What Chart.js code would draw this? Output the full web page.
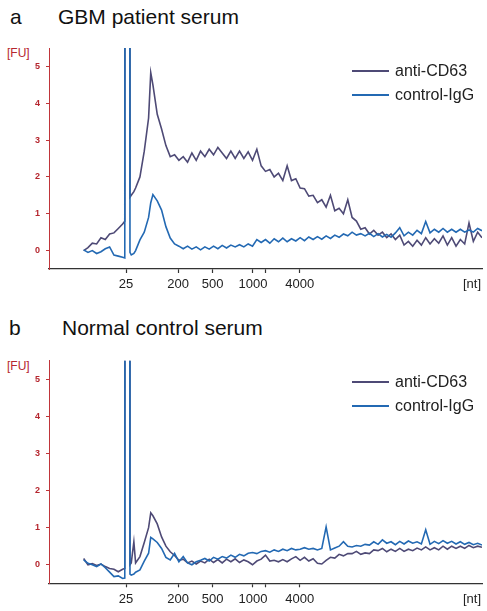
<!DOCTYPE html>
<html>
<head>
<meta charset="utf-8">
<script src="https://cdn.jsdelivr.net/npm/chart.js@4.4.1/dist/chart.umd.min.js"></script>
<style>
  body { margin: 0; background: #fff; font-family: "Liberation Sans", Arial, sans-serif; }
  #page { position: relative; width: 487px; height: 611px; overflow: hidden; }
  canvas { position: absolute; left: 0; }
  .txt { position: absolute; white-space: nowrap; }
  .title { font-size: 21px; line-height: 21px; color: #111; }
  .fu { font-size: 12px; line-height: 12px; color: #b5262e; }
  .leg { font-size: 16px; line-height: 16px; color: #222; }
  .swatch { position: absolute; width: 37px; height: 2px; }
</style>
</head>
<body>
<div id="page">
  <div class="txt title" style="left:10px;top:6px;">a</div>
  <div class="txt title" style="left:58px;top:6px;">GBM patient serum</div>
  <div class="txt fu" style="left:7px;top:47px;">[FU]</div>
  <canvas id="chartA" width="487" height="305" style="top:0;"></canvas>
  <div class="swatch" style="left:352px;top:70px;background:#4e4a76;"></div>
  <div class="txt leg" style="left:395px;top:63px;">anti-CD63</div>
  <div class="swatch" style="left:352px;top:94px;background:#2369b3;"></div>
  <div class="txt leg" style="left:395px;top:87px;">control-IgG</div>

  <div class="txt title" style="left:9px;top:317px;">b</div>
  <div class="txt title" style="left:62px;top:317px;">Normal control serum</div>
  <div class="txt fu" style="left:7px;top:360px;">[FU]</div>
  <canvas id="chartB" width="487" height="298" style="top:313px;"></canvas>
  <div class="swatch" style="left:352px;top:381px;background:#4e4a76;"></div>
  <div class="txt leg" style="left:395px;top:374px;">anti-CD63</div>
  <div class="swatch" style="left:352px;top:405px;background:#2369b3;"></div>
  <div class="txt leg" style="left:395px;top:398px;">control-IgG</div>
</div>

<script>
// migration position (arbitrary units along the run, 0..100)
const time = [8, 9, 10, 11, 12, 13, 14, 15, 16, 17,
  17.5, 17.7, 18.5, 18.7, 19, 19.6, 20, 21, 22, 23, 23.5,
  24, 25, 26, 27, 28, 29, 30, 31, 32, 33,
  34, 35, 36, 37, 38, 39, 40, 41, 42, 43,
  44, 45, 46, 47, 48, 49, 50, 51, 52, 53,
  54, 55, 56, 57, 58, 59, 60, 61, 62, 63,
  64, 65, 66, 67, 68, 69, 70, 71, 72, 73,
  74, 75, 76, 77, 78, 79, 80, 81, 82, 83,
  84, 85, 86, 87, 88, 89, 90, 91, 92, 93,
  94, 95, 96, 97, 98, 99, 100];

// panel a - GBM patient serum
const gbmAntiCD63 = [0.0, 0.08, 0.2, 0.18, 0.35, 0.3, 0.45, 0.48, 0.6, 0.72,
  0.8, 40, 40, 1.45, 1.5, 1.6, 1.7, 2.0, 2.7, 3.6, 4.83,
  4.5, 3.7, 3.3, 2.85, 2.55, 2.6, 2.45, 2.55, 2.4, 2.65,
  2.45, 2.7, 2.55, 2.75, 2.6, 2.8, 2.65, 2.5, 2.7, 2.5,
  2.7, 2.5, 2.68, 2.45, 2.75, 2.3, 2.15, 2.2, 2.0, 2.1,
  1.9, 2.3, 1.9, 1.95, 1.7, 1.68, 1.48, 1.5, 1.3, 1.38,
  1.18, 1.5, 1.08, 1.15, 1.0, 1.38, 0.9, 0.8, 0.58, 0.62,
  0.45, 0.55, 0.42, 0.5, 0.35, 0.45, 0.3, 0.42, 0.15, 0.25,
  0.12, 0.28, 0.15, 0.35, 0.18, 0.32, 0.2, 0.4, 0.15, 0.35,
  0.12, 0.3, 0.18, 0.75, 0.25, 0.5, 0.35];
const gbmControlIgG = [0.02, -0.05, 0.0, -0.08, -0.03, 0.05, 0.1, -0.12, -0.15, -0.18,
  -0.2, 40, 40, -0.05, -0.12, -0.08, 0.0, 0.29, 0.5, 0.9, 1.3,
  1.52, 1.35, 1.1, 0.65, 0.34, 0.18, 0.12, 0.05, 0.12, 0.04,
  0.1, 0.02, 0.1, 0.04, 0.12, 0.05, 0.14, 0.07, 0.15, 0.1,
  0.16, 0.1, 0.18, 0.12, 0.3, 0.22, 0.3, 0.2, 0.32, 0.24,
  0.34, 0.24, 0.32, 0.26, 0.35, 0.27, 0.37, 0.3, 0.38, 0.31,
  0.4, 0.33, 0.42, 0.36, 0.45, 0.4, 0.5, 0.42, 0.46, 0.4,
  0.47, 0.38, 0.46, 0.37, 0.44, 0.36, 0.48, 0.62, 0.4, 0.5,
  0.42, 0.55, 0.46, 0.79, 0.48, 0.58, 0.5, 0.6, 0.5, 0.58,
  0.5, 0.58, 0.5, 0.56, 0.5, 0.6, 0.54];

// panel b - normal control serum
const normAntiCD63 = [0.17, 0.0, 0.03, -0.02, 0.02, -0.05, -0.1, -0.12, -0.19, -0.12,
  -0.1, 40, 40, 0.0, 0.05, 0.62, 0.05, 0.22, 0.6, 1.0, 1.4,
  1.32, 1.1, 0.75, 0.5, 0.35, 0.25, 0.12, 0.15, 0.05, 0.1,
  0.02, 0.1, 0.05, 0.15, 0.06, 0.14, 0.05, 0.15, 0.08, 0.16,
  0.06, 0.13, 0.08, 0.0, 0.1, 0.15, 0.26, 0.1, 0.12, 0.08,
  0.14, 0.08, 0.16, 0.22, 0.12, 0.2, 0.1, 0.16, 0.04, 0.02,
  0.12, 0.2, 0.18, 0.28, 0.24, 0.3, 0.3, 0.36, 0.28, 0.32,
  0.3, 0.4, 0.38, 0.44, 0.35, 0.42, 0.36, 0.44, 0.36, 0.42,
  0.38, 0.45, 0.4, 0.48, 0.4, 0.46, 0.4, 0.5, 0.42, 0.5,
  0.44, 0.5, 0.44, 0.52, 0.46, 0.5, 0.47];
const normControlIgG = [0.13, 0.04, 0.0, -0.05, 0.02, -0.08, -0.2, -0.32, -0.3, -0.37,
  -0.36, 40, 40, -0.25, -0.28, -0.25, -0.2, -0.14, 0.1, 0.31, 0.74,
  0.7, 0.6, 0.44, 0.2, 0.13, 0.31, 0.08, 0.22, 0.05, 0.0,
  0.08, 0.12, 0.17, 0.1, 0.2, 0.15, 0.22, 0.18, 0.26, 0.2,
  0.28, 0.24, 0.31, 0.33, 0.3, 0.36, 0.38, 0.34, 0.4, 0.36,
  0.42, 0.38, 0.44, 0.4, 0.42, 0.46, 0.42, 0.44, 0.4, 0.44,
  1.02, 0.4, 0.45, 0.5, 0.62, 0.5, 0.48, 0.52, 0.5, 0.55,
  0.53, 0.62, 0.55, 0.67, 0.58, 0.62, 0.54, 0.63, 0.56, 0.64,
  0.58, 0.62, 0.56, 0.94, 0.55, 0.63, 0.57, 0.65, 0.58, 0.63,
  0.56, 0.62, 0.55, 0.6, 0.54, 0.58, 0.53];

// ladder ticks along the x axis
const xTickPos = [17.8, 29.8, 37.8, 47.1, 50.1, 57.9, 97.7];
const xTickLabels = ['25', '200', '500', '1000', '', '4000', '[nt]'];
const yTicks = [0, 1, 2, 3, 4, 5];

const RED = '#c0353a';
const PURPLE = '#4e4a76';
const BLUE = '#2369b3';

function toPoints(vals) {
    return vals.map((v, i) => ({ x: time[i], y: v }));
}

function makePanel(id, anti, igg, areaTop, xAxisHeight) {
    const ctx = document.getElementById(id).getContext('2d');
    return new Chart(ctx, {
        type: 'line',
        data: {
            datasets: [
                { label: 'anti-CD63', data: toPoints(anti), borderColor: PURPLE, borderWidth: 1.6, pointRadius: 0, tension: 0, order: 2 },
                { label: 'control-IgG', data: toPoints(igg), borderColor: BLUE, borderWidth: 1.6, pointRadius: 0, tension: 0, order: 1 }
            ]
        },
        options: {
            responsive: false,
            animation: false,
            layout: { padding: { top: areaTop, right: 5, left: 0, bottom: 0 } },
            plugins: { legend: { display: false }, tooltip: { enabled: false } },
            scales: {
                x: {
                    type: 'linear',
                    min: 0,
                    max: 100,
                    afterBuildTicks: s => { s.ticks = xTickPos.map(v => ({ value: v })); },
                    afterFit: s => { s.height = xAxisHeight; },
                    border: { color: '#333', width: 1.3 },
                    grid: {
                        drawOnChartArea: false,
                        tickLength: 4,
                        tickWidth: 1.2,
                        color: '#333',
                        tickColor: c => (c.tick && c.index === xTickPos.length - 1) ? 'rgba(0,0,0,0)' : '#333'
                    },
                    ticks: {
                        autoSkip: false,
                        maxRotation: 0,
                        padding: 4,
                        color: '#222',
                        font: { family: '"Liberation Sans", Arial, sans-serif', size: 13 },
                        callback: (v, i) => xTickLabels[i]
                    }
                },
                y: {
                    min: -0.5,
                    max: 5.5,
                    afterBuildTicks: s => { s.ticks = yTicks.map(v => ({ value: v })); },
                    afterFit: s => { s.width = 49; },
                    border: { color: RED, width: 1 },
                    grid: { drawOnChartArea: false, tickLength: 3, color: RED },
                    ticks: {
                        padding: 6,
                        color: '#b5262e',
                        font: { family: '"Liberation Sans", Arial, sans-serif', size: 9, weight: 'bold' }
                    }
                }
            }
        }
    });
}

makePanel('chartA', gbmAntiCD63, gbmControlIgG, 48, 36);
makePanel('chartB', normAntiCD63, normControlIgG, 47.7, 27.7);
</script>
</body>
</html>
